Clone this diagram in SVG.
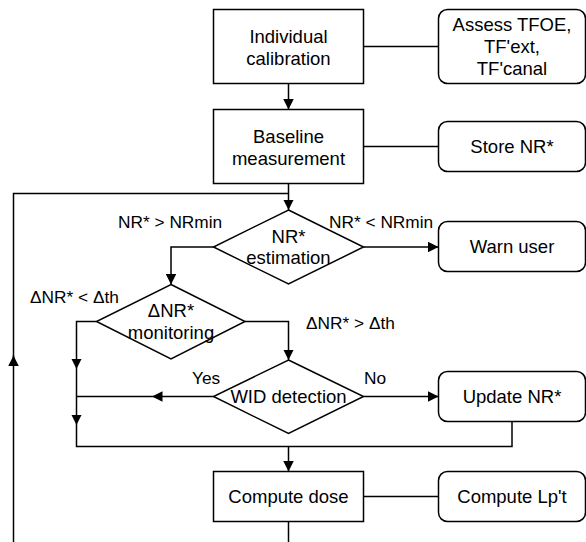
<svg xmlns="http://www.w3.org/2000/svg" width="586" height="542" viewBox="0 0 586 542">
<style>
.box{fill:#fff;stroke:#000;stroke-width:1.5}
.t{font-family:"Liberation Sans",Arial,sans-serif;font-size:18.5px;fill:#000;text-anchor:middle}
.l{font-family:"Liberation Sans",Arial,sans-serif;font-size:17.3px;fill:#000}
.c{fill:none;stroke:#000;stroke-width:1.5}
</style>
<defs>
<marker id="arr" viewBox="0 0 10 10" refX="10" refY="5" markerWidth="10.5" markerHeight="10.5" markerUnits="userSpaceOnUse" orient="auto">
<path d="M0,0 L10,5 L0,10 z" fill="#000"/>
</marker>
</defs>
<g id="connectors">
<path class="c" d="M363.5,46.5 H438.5"/>
<path class="c" d="M363.5,146.5 H438.5"/>
<path class="c" d="M363.5,496.5 H438.5"/>
<path class="c" d="M288.5,83.5 V109.5" marker-end="url(#arr)"/>
<path class="c" d="M288.5,183.5 V210" marker-end="url(#arr)"/>
<path class="c" d="M288.5,193.5 H13.5 V360"/>
<path class="c" d="M13.5,542 V355.5" marker-end="url(#arr)"/>
<path class="c" d="M363.5,247 H438.5" marker-end="url(#arr)"/>
<path class="c" d="M213.5,247 H171 V284.5" marker-end="url(#arr)"/>
<path class="c" d="M245,321.5 H288.5 V360" marker-end="url(#arr)"/>
<path class="c" d="M96.5,321.5 H76.5 V369" marker-end="url(#arr)"/>
<path class="c" d="M76.5,369 V425" marker-end="url(#arr)"/>
<path class="c" d="M76.5,425 V446.5 H512 V421.5"/>
<path class="c" d="M213.5,396.5 H152" marker-end="url(#arr)"/>
<path class="c" d="M152,396.5 H76.5"/>
<path class="c" d="M363.5,396.5 H438.5" marker-end="url(#arr)"/>
<path class="c" d="M288.5,446.5 V471.5" marker-end="url(#arr)"/>
<path class="c" d="M288.5,521.5 V542"/>
</g>
<g id="calibration">
<rect class="box" x="213.5" y="9.5" width="150" height="74"/>
<text class="t" x="288.5" y="43">Individual</text>
<text class="t" x="288.5" y="65">calibration</text>
</g>
<g id="assess">
<rect class="box" x="438.5" y="9.5" width="147" height="74" rx="9"/>
<text class="t" x="512" y="31">Assess TFOE,</text>
<text class="t" x="512" y="53">TF'ext,</text>
<text class="t" x="512" y="75">TF'canal</text>
</g>
<g id="baseline">
<rect class="box" x="213.5" y="109.5" width="150" height="74"/>
<text class="t" x="288.5" y="143">Baseline</text>
<text class="t" x="288.5" y="165">measurement</text>
</g>
<g id="store">
<rect class="box" x="438.5" y="121.5" width="147" height="50" rx="9"/>
<text class="t" x="512" y="153">Store NR*</text>
</g>
<g id="estimation">
<path class="box" d="M288.5,210 L363.5,247 L288.5,284 L213.5,247 Z"/>
<text class="t" x="288.5" y="243">NR*</text>
<text class="t" x="288.5" y="264">estimation</text>
</g>
<g id="warn">
<rect class="box" x="438.5" y="221.5" width="147" height="50" rx="9"/>
<text class="t" x="512" y="253">Warn user</text>
</g>
<g id="monitoring">
<path class="box" d="M171,284.5 L245,321.5 L171,359 L96.5,321.5 Z"/>
<text class="t" x="171" y="317">ΔNR*</text>
<text class="t" x="171" y="339">monitoring</text>
</g>
<g id="wid">
<path class="box" d="M288.5,360 L363.5,396.5 L288.5,433.5 L213.5,396.5 Z"/>
<text class="t" x="288.5" y="403">WID detection</text>
</g>
<g id="update">
<rect class="box" x="438.5" y="371.5" width="147" height="50" rx="9"/>
<text class="t" x="512" y="403">Update NR*</text>
</g>
<g id="dose">
<rect class="box" x="213.5" y="471.5" width="150" height="50"/>
<text class="t" x="288.5" y="503">Compute dose</text>
</g>
<g id="lpt">
<rect class="box" x="438.5" y="471.5" width="147" height="50" rx="9"/>
<text class="t" x="512" y="503">Compute Lp't</text>
</g>
<g id="labels">
<text class="l" x="118" y="228">NR* &gt; NRmin</text>
<text class="l" x="329" y="228">NR* &lt; NRmin</text>
<text class="l" x="30" y="303">ΔNR* &lt; Δth</text>
<text class="l" x="306" y="329">ΔNR* &gt; Δth</text>
<text class="l" x="192" y="384">Yes</text>
<text class="l" x="364" y="384">No</text>
</g>
</svg>
